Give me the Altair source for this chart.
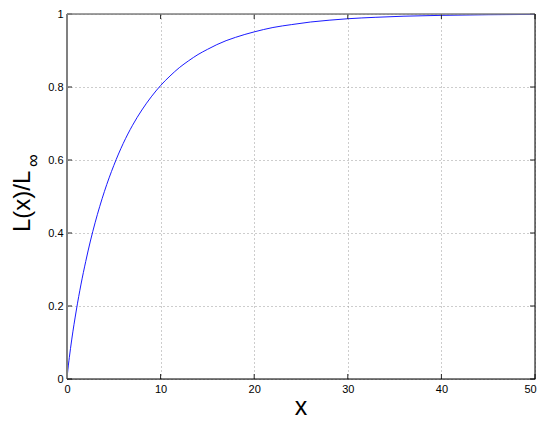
import altair as alt
import pandas as pd

# values
xs = [0, 0.1, 0.25, 0.5, 1, 1.5, 2, 2.5, 3, 3.5, 4, 5, 6, 7, 8, 9, 10, 11, 12,
      13, 14, 15, 16, 17, 18, 19, 20, 22, 24, 26, 28, 30, 33, 36, 40, 45, 50]
ys = [0, 0.027, 0.059, 0.107, 0.189, 0.260, 0.322, 0.378, 0.428, 0.473, 0.514,
      0.585, 0.645, 0.695, 0.737, 0.773, 0.804, 0.830, 0.853, 0.872, 0.889,
      0.903, 0.916, 0.927, 0.936, 0.944, 0.951, 0.963, 0.971, 0.978, 0.983,
      0.987, 0.991, 0.994, 0.9963, 0.998, 0.9989]
x_ticks = [0, 10, 20, 30, 40, 50]
y_ticks = [0, 0.2, 0.4, 0.6, 0.8, 1]

W, H = 468, 365
FONT = "Liberation Sans"

curve = pd.DataFrame({"x": xs, "y": ys})
xt = pd.DataFrame({"v": x_ticks})
yt = pd.DataFrame({"v": y_ticks})

xscale = alt.Scale(domain=[0, 50], nice=False, zero=False)
yscale = alt.Scale(domain=[0, 1], nice=False, zero=False)

xaxis = alt.Axis(values=x_ticks, grid=True, gridDash=[1, 3], gridColor="#9a9a9a",
                 gridWidth=1, domain=False, ticks=False, labelPadding=4,
                 labelFontSize=11, labelFont=FONT, labelColor="black", title=None,
                 format="~g", labelFlush=False,
                 labelOffset={"condition": {"test": "datum.value == 50", "value": -5},
                              "value": 0})
yaxis = alt.Axis(values=y_ticks, grid=True, gridDash=[1, 3], gridColor="#9a9a9a",
                 gridWidth=1, domain=False, ticks=False, labelPadding=4,
                 labelFontSize=11, labelFont=FONT, labelColor="black", title=None,
                 format="~g", labelFlush=False)

line = alt.Chart(curve).mark_line(color="#0000ff", strokeWidth=0.9,
                                  interpolate="monotone").encode(
    x=alt.X("x:Q", scale=xscale, axis=xaxis),
    y=alt.Y("y:Q", scale=yscale, axis=yaxis),
)

tick_col = "#222222"
xb = alt.Chart(xt).mark_rule(color=tick_col, strokeWidth=1).encode(
    x=alt.X("v:Q", scale=xscale), y=alt.value(H), y2=alt.value(H - 5))
xtop = alt.Chart(xt).mark_rule(color=tick_col, strokeWidth=1).encode(
    x=alt.X("v:Q", scale=xscale), y=alt.value(0), y2=alt.value(5))
yl = alt.Chart(yt).mark_rule(color=tick_col, strokeWidth=1).encode(
    y=alt.Y("v:Q", scale=yscale), x=alt.value(0), x2=alt.value(5))
yr = alt.Chart(yt).mark_rule(color=tick_col, strokeWidth=1).encode(
    y=alt.Y("v:Q", scale=yscale), x=alt.value(W), x2=alt.value(W - 5))

one = pd.DataFrame({"t": ["x"]})
box_left = alt.Chart(one).mark_rule(color="#808080", strokeWidth=2).encode(
    x=alt.value(0), y=alt.value(0), y2=alt.value(H))
box_top = alt.Chart(one).mark_rule(color="#808080", strokeWidth=1.5).encode(
    x=alt.value(0), x2=alt.value(W), y=alt.value(0))
box_right = alt.Chart(one).mark_rule(color="black", strokeWidth=1).encode(
    x=alt.value(W), y=alt.value(0), y2=alt.value(H))
box_bottom = alt.Chart(one).mark_rule(color="black", strokeWidth=1).encode(
    x=alt.value(0), x2=alt.value(W), y=alt.value(H))

xtitle = alt.Chart(pd.DataFrame({"t": ["x"]})).mark_text(
    font=FONT, fontSize=25, align="center", baseline="alphabetic", color="black"
).encode(x=alt.value(W / 2), y=alt.value(H + 36), text="t:N")

ytitle = alt.Chart(pd.DataFrame({"t": ["L(x)/L"]})).mark_text(
    font=FONT, fontSize=24, align="left", baseline="alphabetic", angle=270,
    color="black"
).encode(x=alt.value(-37), y=alt.value(218), text="t:N")

yinf = alt.Chart(pd.DataFrame({"t": ["∞"]})).mark_text(
    font=FONT, fontSize=18, align="left", baseline="alphabetic", angle=270,
    color="black"
).encode(x=alt.value(-28), y=alt.value(153), text="t:N")

chart = alt.layer(line, xb, xtop, yl, yr, box_left, box_top, box_right,
                  box_bottom, xtitle, ytitle, yinf).properties(
    width=W, height=H,
    autosize=alt.AutoSizeParams(type="none"),
    padding={"left": 59, "top": 6, "right": 2, "bottom": 40},
).configure_view(stroke=None).configure(background="white")

chart.save("out.html", embed_options={"renderer": "svg", "actions": False})
